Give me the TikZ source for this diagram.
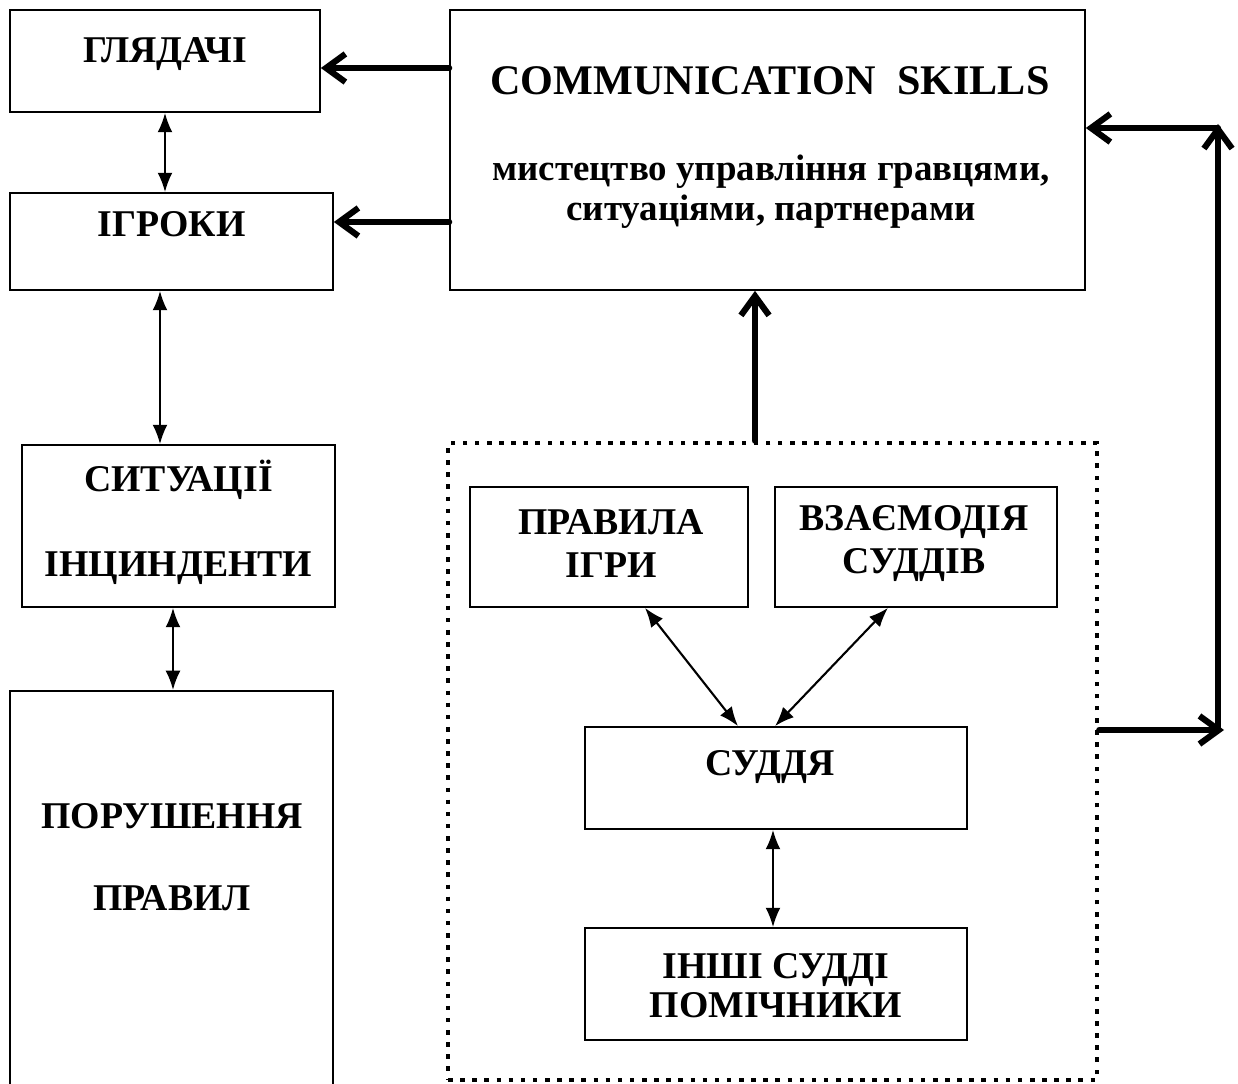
\documentclass[tikz,border=0pt]{standalone}
\usepackage{fontspec}
\setmainfont{Liberation Serif}
\usetikzlibrary{arrows.meta}
\usetikzlibrary{positioning}

\begin{document}
\begin{tikzpicture}[x=0.02cm,y=-0.02cm,
    box/.style={draw,line width=1pt,inner sep=0pt},
    frame/.style={draw,line width=2.6pt,dash pattern=on 2.6pt off 4.3pt,inner sep=0pt},
    txt/.style={align=center,inner sep=0pt,font=\bfseries\fontsize{21.5}{24.5}\selectfont},
    thin/.style={line width=1.2pt,{Latex[length=11pt,width=8.5pt]}-{Latex[length=11pt,width=8.5pt]}},
    thick/.style={line width=3.5pt,line cap=round,line join=round,-{Straight Barb[length=11pt,width=16pt]}}]
  \useasboundingbox (0,0) rectangle (1238,1084);

  % left column
  \node[box,minimum width=6.2cm,minimum height=2.04cm] (gl) at (165,61) {};
  \node[box,minimum width=6.46cm,minimum height=1.94cm] (ig) at (171.5,241.5) {};
  \node[box,minimum width=6.26cm,minimum height=3.24cm] (sit) at (178.5,526) {};
  \node[box,minimum width=6.46cm,minimum height=8.2cm,anchor=north] (por) at (171.5,690) {};
  \node[txt] (glT) at (165,54) {ГЛЯДАЧІ};
  \node[txt] (igT) at (171.5,224) {ІГРОКИ};
  \node[txt] (sitT) at (178.5,522) {СИТУАЦІЇ\\[24pt]ІНЦИНДЕНТИ};
  \node[txt] (porT) at (172,857) {ПОРУШЕННЯ\\[22.5pt]ПРАВИЛ};

  % communication skills
  \node[box,minimum width=12.7cm,minimum height=5.6cm] (cs) at (767.5,150) {};
  \node[txt,font=\bfseries\fontsize{24}{28}\selectfont] (csT) at (770,81) {COMMUNICATION\ \ SKILLS};
  \node[txt,font=\bfseries\fontsize{21}{22.7}\selectfont] (csS) at (771,192) {мистецтво управління гравцями,\\ситуаціями, партнерами};

  % referee group
  \node[frame,minimum width=12.98cm,minimum height=12.74cm] (fr) at (772.5,761.5) {};
  \node[box,minimum width=5.56cm,minimum height=2.4cm] (pr) at (609,547) {};
  \node[box,minimum width=5.64cm,minimum height=2.4cm] (vz) at (916,547) {};
  \node[box,minimum width=7.64cm,minimum height=2.04cm] (su) at (776,778) {};
  \node[box,minimum width=7.64cm,minimum height=2.24cm] (in) at (776,984) {};
  \node[txt] (prT) at (611,544) {ПРАВИЛА\\ІГРИ};
  \node[txt] (vzT) at (914,544) {ВЗАЄМОДІЯ\\СУДДІВ};
  \node[txt] (suT) at (770,767) {СУДДЯ};
  \node[txt,font=\bfseries\fontsize{21.5}{22}\selectfont] (inT) at (776,986) {ІНШІ СУДДІ\\ПОМІЧНИКИ};

  % thick arrows
  \draw[thick] (cs.west |- 0,68) -- (gl.east |- 0,68);
  \draw[thick] (cs.west |- 0,222) -- (ig.east |- 0,222);
  \draw[thick] (fr.north -| 755,0) -- (cs.south -| 755,0);
  \coordinate (rb) at (1224,730);
  \coordinate (rt) at (1218,128);
  \draw[thick] (fr.east |- rb) -- (rb);
  \draw[thick] (rb -| rt) -- ([yshift=0.08cm]rt);
  \draw[thick] (rt) -- (cs.east |- rt);

  % thin arrows
  \draw[thin] (gl.south) -- (gl.south |- ig.north);
  \draw[thin] (ig.south -| 160,0) -- (sit.north -| 160,0);
  \draw[thin] (sit.south -| 173,0) -- (por.north -| 173,0);
  \draw[thin] (pr.south -| 645,0) -- (su.north -| 738,0);
  \draw[thin] (vz.south -| 888,0) -- (su.north -| 775,0);
  \draw[thin] (su.south -| 773,0) -- (in.north -| 773,0);
\end{tikzpicture}
\end{document}
